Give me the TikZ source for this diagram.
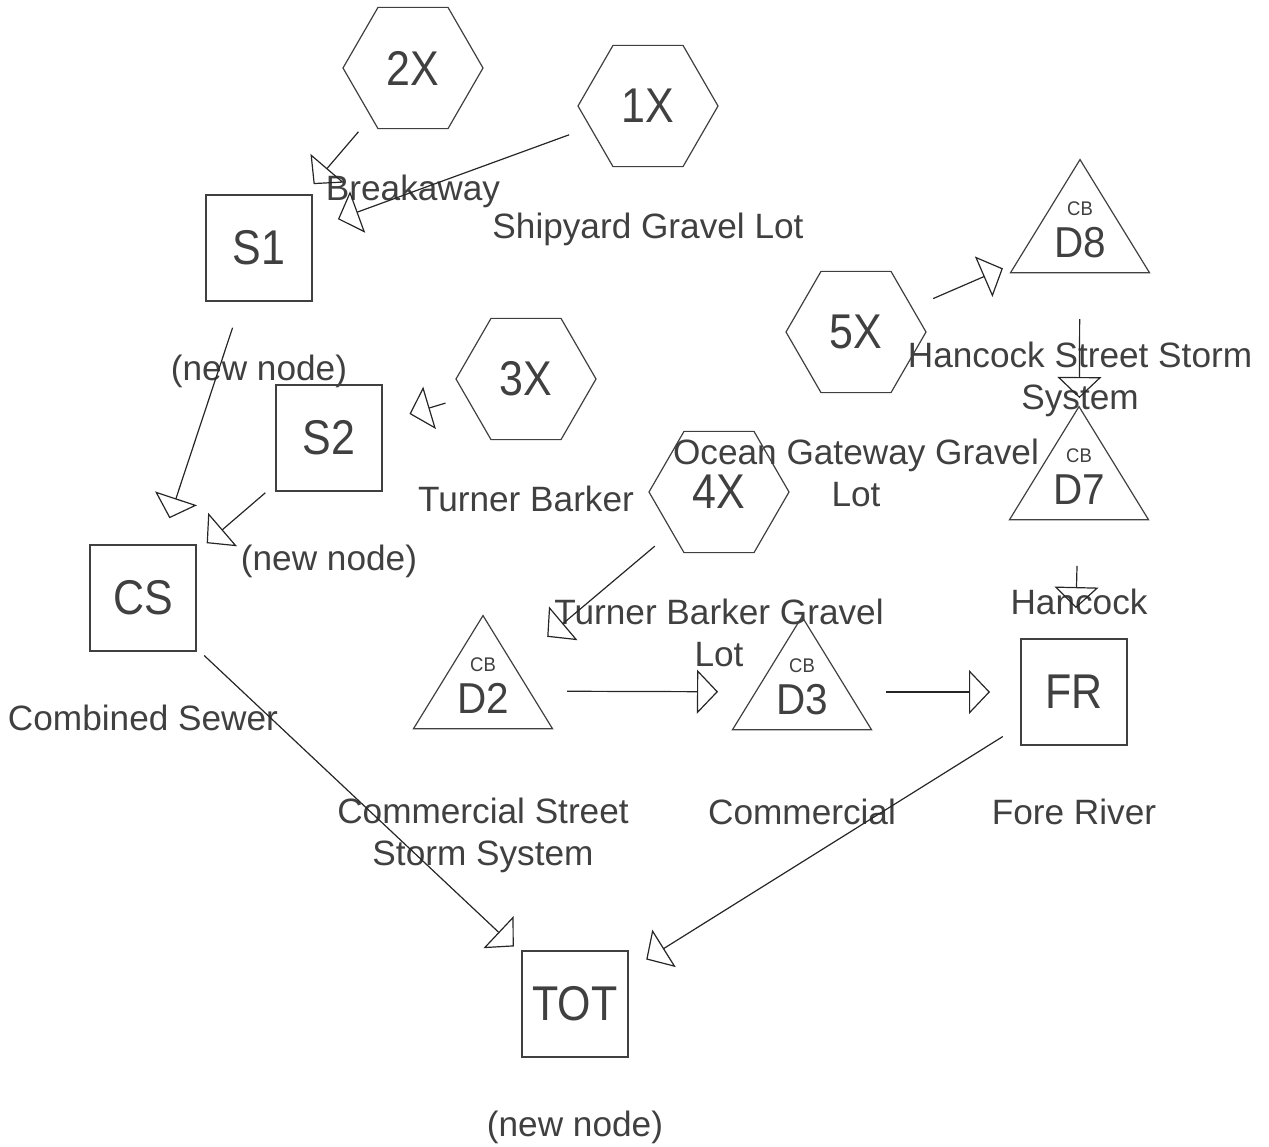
\documentclass[tikz,border=0pt]{standalone}
\usepackage{fontspec}
\setmainfont{Liberation Sans}
\newfontfamily\nodefont[FakeStretch=0.88]{Liberation Sans}
\usetikzlibrary{positioning, shapes.geometric, arrows.meta}

\begin{document}
\begin{tikzpicture}[
    x=0.5pt, y=-0.5pt,
    every node/.style={text=black!75},
    sq/.style={draw=black!75, line width=0.6pt, minimum size=53pt, inner sep=0pt, font=\nodefont\fontsize{24.4}{26}\selectfont},
    hx/.style={draw=black!75, line width=0.6pt, regular polygon, regular polygon sides=6, minimum size=70pt, inner sep=0pt, font=\nodefont\fontsize{24.4}{26}\selectfont},
    cb/.style={draw=black!75, line width=0.6pt, regular polygon, regular polygon sides=3, minimum size=80.25pt, inner sep=-6pt, yscale=0.94, align=center, font=\nodefont\fontsize{23}{22.5}\selectfont},
    lbl/.style={anchor=base, align=center, font=\fontsize{17.6}{21}\selectfont},
    flow/.style={draw=black!85, line width=0.6pt, -{Triangle[open, length=10.5pt, width=22pt]}, shorten <=42pt, shorten >=42pt},
  ]
  \useasboundingbox (0,0) rectangle (1269,1146);

  \node[hx] (x2) at (413,68) {2X};
  \node[hx] (x1) at (648,106) {1X};
  \node[hx] (x3) at (526,379) {3X};
  \node[hx] (x4) at (719,492) {4X};
  \node[hx] (x5) at (856,332) {5X};
  \node[sq] (s1) at (259,248) {S1};
  \node[sq] (s2) at (329,438) {S2};
  \node[sq] (cs) at (143,598) {CS};
  \node[sq] (fr) at (1074,692) {FR};
  \node[sq] (tot) at (575,1004) {TOT};
  \node[cb] (d8) at (1080,235) {{\fontsize{10.5}{10}\selectfont CB}\\D8\rule[-5.5pt]{0pt}{0pt}};
  \node[cb] (d7) at (1079,482) {{\fontsize{10.5}{10}\selectfont CB}\\D7\rule[-5.5pt]{0pt}{0pt}};
  \node[cb] (d2) at (483,691) {{\fontsize{10.5}{10}\selectfont CB}\\D2\rule[-5.5pt]{0pt}{0pt}};
  \node[cb] (d3) at (802,692) {{\fontsize{10.5}{10}\selectfont CB}\\D3\rule[-5.5pt]{0pt}{0pt}};

  \node[below=66.3pt of x2.center, lbl] (x2l) {Breakaway};
  \node[below=66.3pt of x1.center, lbl] (x1l) {Shipyard Gravel Lot};
  \node[below=66.3pt of x3.center, lbl] (x3l) {Turner Barker};
  \node[below=87.3pt of x4.center, lbl] (x4l) {Turner Barker Gravel\\Lot};
  \node[below=87.3pt of x5.center, lbl] (x5l) {Ocean Gateway Gravel\\Lot};
  \node[below=66.3pt of s1.center, lbl] (s1l) {(new node)};
  \node[below=66.3pt of s2.center, lbl] (s2l) {(new node)};
  \node[below=66.3pt of cs.center, lbl] (csl) {Combined Sewer};
  \node[below=66.3pt of fr.center, lbl] (frl) {Fore River};
  \node[below=66.3pt of tot.center, lbl] (totl) {(new node)};
  \node[below=87.3pt of d8.center, lbl] (d8l) {Hancock Street Storm\\System};
  \node[below=66.3pt of d7.center, lbl] (d7l) {Hancock};
  \node[below=87.3pt of d2.center, lbl] (d2l) {Commercial Street\\Storm System};
  \node[below=66.3pt of d3.center, lbl] (d3l) {Commercial};

  \draw[flow] (x2.center) -- (s1.center);
  \draw[flow] (x1.center) -- (s1.center);
  \draw[flow] (s1.center) -- (cs.center);
  \draw[flow] (x3.center) -- (s2.center);
  \draw[flow] (s2.center) -- (cs.center);
  \draw[flow] (x4.center) -- (d2.center);
  \draw[flow] (x5.center) -- (d8.center);
  \draw[flow] (d8.center) -- (d7.center);
  \draw[flow] (d7.center) -- (fr.center);
  \draw[flow] (d2.center) -- (d3.center);
  \draw[flow] (d3.center) -- (fr.center);
  \draw[flow] (cs.center) -- (tot.center);
  \draw[flow] (fr.center) -- (tot.center);
\end{tikzpicture}
\end{document}
